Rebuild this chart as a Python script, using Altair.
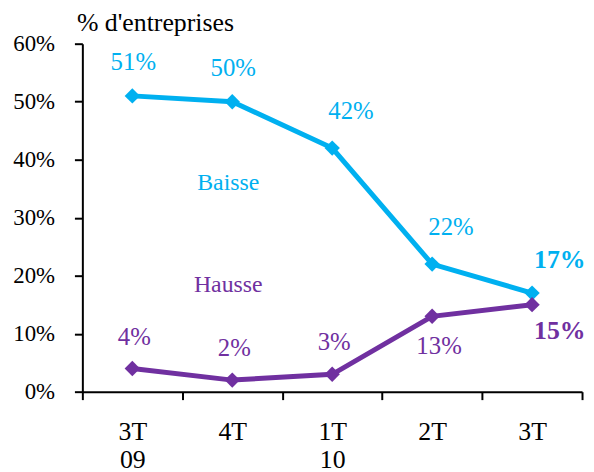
import json
import altair as alt
import pandas as pd

quarters = ["3T 09", "4T 09", "1T 10", "2T 10", "3T 10"]
tick_labels = [["3T", "09"], ["4T"], ["1T", "10"], ["2T"], ["3T"]]
baisse = [51, 50, 42, 22, 17]
hausse = [4, 2, 3, 13, 15]
series_names = ["Baisse", "Hausse"]
colors = ["#00B0F0", "#7030A0"]
y_ticks = [0, 10, 20, 30, 40, 50, 60]
axis_title = "% d'entreprises"

FONT = "'Times New Roman', 'Liberation Serif', serif"

rows = []
for name, vals in zip(series_names, [baisse, hausse]):
    for i, (q, v) in enumerate(zip(quarters, vals)):
        rows.append({"quarter": q, "idx": i, "series": name, "value": v,
                     "label": f"{v}%"})
df = pd.DataFrame(rows)

# label expression for two-line tick labels
expr = "''"
for q, lines in reversed(list(zip(quarters, tick_labels))):
    expr = f"datum.value == '{q}' ? {json.dumps(lines)} : ({expr})"

x = alt.X(
    "quarter:N", sort=quarters,
    scale=alt.Scale(type="band", paddingInner=0, paddingOuter=0),
    axis=alt.Axis(
        title=None, tickBand="extent", labelExpr=expr, labelAngle=0,
        labelFont=FONT, labelFontSize=26, labelColor="black",
        labelPadding=19, labelLineHeight=28, labelBaseline="top",
        tickSize=8, tickColor="black", tickWidth=2,
        domainColor="black", domainWidth=2, grid=False,
    ),
)
y = alt.Y(
    "value:Q",
    scale=alt.Scale(domain=[0, 60], nice=False),
    axis=alt.Axis(
        values=y_ticks, labelExpr="datum.value + '%'",
        labelFont=FONT, labelFontSize=23, labelColor="black", labelPadding=20,
        tickSize=8, tickColor="black", tickWidth=2,
        domainColor="black", domainWidth=2, grid=False,
        title=axis_title, titleAngle=0, titleAlign="left",
        titleBaseline="alphabetic", titleX=-6, titleY=-13,
        titleFont=FONT, titleFontSize=26, titleFontWeight="normal",
        titleColor="black",
    ),
)
color = alt.Color("series:N", scale=alt.Scale(domain=series_names, range=colors),
                  legend=None)

base = alt.Chart(df).encode(x=x, y=y, color=color)

lines_b = base.transform_filter("datum.series == 'Baisse'").mark_line(strokeWidth=5)
lines_h = base.transform_filter("datum.series == 'Hausse'").mark_line(strokeWidth=5)
pts_b = base.transform_filter("datum.series == 'Baisse'").mark_point(
    shape="diamond", size=240, filled=True, opacity=1)
pts_h = base.transform_filter("datum.series == 'Hausse'").mark_point(
    shape="diamond", size=240, filled=True, opacity=1)


def lab(filt, dx, dy, bold=False):
    return base.transform_filter(filt).mark_text(
        font=FONT, fontSize=26 if bold else 25,
        fontWeight="bold" if bold else "normal",
        dx=dx, dy=dy, baseline="middle", align="center",
    ).encode(text="label:N")


labels = [
    lab("datum.series == 'Baisse' && datum.idx <= 1", 1, -34),
    lab("datum.series == 'Baisse' && (datum.idx == 2 || datum.idx == 3)", 19, -37),
    lab("datum.series == 'Baisse' && datum.idx == 4", 28, -33, bold=True),
    lab("datum.series == 'Hausse' && datum.idx <= 2", 2, -32),
    lab("datum.series == 'Hausse' && datum.idx == 3", 7, 30),
    lab("datum.series == 'Hausse' && datum.idx == 4", 28, 27, bold=True),
]

names_df = pd.DataFrame({
    "series": series_names,
    "quarter": ["4T 09", "4T 09"],
    "value": [35.9, 18.3],
})
names = alt.Chart(names_df).mark_text(
    font=FONT, fontSize=24, baseline="middle", align="center", dx=-4
).encode(x=alt.X("quarter:N", sort=quarters), y="value:Q", text="series:N",
         color=color)

chart = alt.layer(lines_b, pts_b, lines_h, pts_h, *labels, names).properties(
    width=504, height=351,
    autosize=alt.AutoSizeParams(type="none"),
    padding={"left": 75, "top": 34, "right": 4, "bottom": 79},
    background="white",
).configure_view(stroke=None)

chart.save("out.html", embed_options={"renderer": "svg", "actions": False})
